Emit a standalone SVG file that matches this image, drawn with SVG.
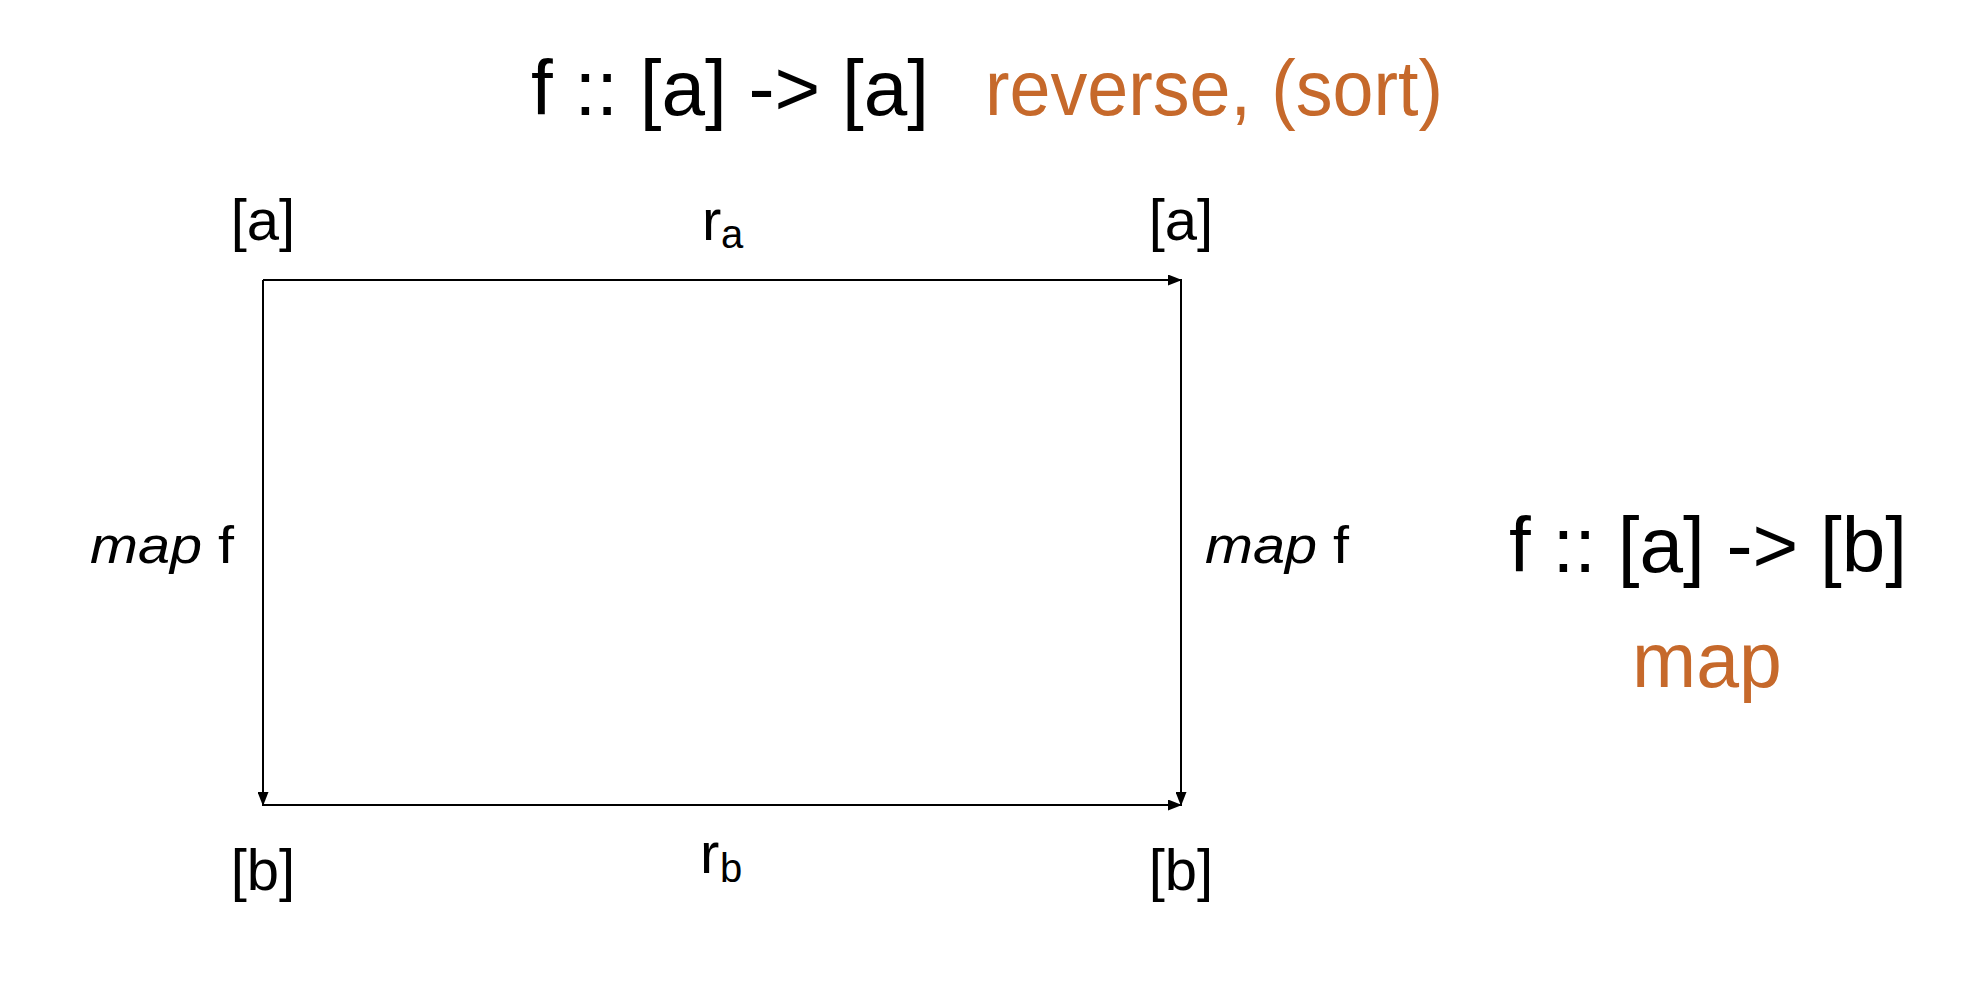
<svg xmlns="http://www.w3.org/2000/svg" width="1966" height="986" viewBox="0 0 1966 986">
<style>
text{font-family:"Liberation Sans",Arial,sans-serif;fill:#000}
.big{font-size:77px}
.lbl{font-size:58px}
.sub{font-size:40px}
.it{font-size:52px}
.or{fill:#C6692B}
.edge{stroke:#000;stroke-width:2;fill:none}
</style>
<defs>
<marker id="ah" viewBox="0 0 14 11" refX="14" refY="5.5" markerWidth="14" markerHeight="11" markerUnits="userSpaceOnUse" orient="auto">
<path d="M0,0 L14,5.5 L0,11 z" fill="#000"/>
</marker>
</defs>
<rect width="1966" height="986" fill="#fff"/>
<g id="title">
<text class="big" x="531" y="115" textLength="398" lengthAdjust="spacingAndGlyphs">f :: [a] -&gt; [a]</text>
<text class="big or" x="985" y="115" textLength="458" lengthAdjust="spacingAndGlyphs">reverse, (sort)</text>
</g>
<g id="connectors">
<line class="edge" x1="263" y1="280" x2="1182" y2="280" marker-end="url(#ah)"/>
<line class="edge" x1="263" y1="280" x2="263" y2="806" marker-end="url(#ah)"/>
<line class="edge" x1="1181" y1="280" x2="1181" y2="806" marker-end="url(#ah)"/>
<line class="edge" x1="263" y1="805" x2="1182" y2="805" marker-end="url(#ah)"/>
</g>
<g id="node-tl"><text class="lbl" x="263" y="240" text-anchor="middle">[a]</text></g>
<g id="node-tr"><text class="lbl" x="1181" y="240" text-anchor="middle">[a]</text></g>
<g id="node-bl"><text class="lbl" x="263" y="890" text-anchor="middle">[b]</text></g>
<g id="node-br"><text class="lbl" x="1181" y="890" text-anchor="middle">[b]</text></g>
<g id="label-ra"><text class="lbl" x="702" y="240">r</text><text class="sub" x="721" y="248">a</text></g>
<g id="label-rb"><text class="lbl" x="700" y="873">r</text><text class="sub" x="720" y="882">b</text></g>
<g id="label-left"><text class="it" x="90" y="563" textLength="144" lengthAdjust="spacingAndGlyphs"><tspan font-style="italic">map</tspan> f</text></g>
<g id="label-right"><text class="it" x="1205" y="563" textLength="144" lengthAdjust="spacingAndGlyphs"><tspan font-style="italic">map</tspan> f</text></g>
<g id="side">
<text class="big" x="1509" y="572" textLength="398" lengthAdjust="spacingAndGlyphs">f :: [a] -&gt; [b]</text>
<text class="big or" x="1707" y="687" text-anchor="middle">map</text>
</g>
</svg>
